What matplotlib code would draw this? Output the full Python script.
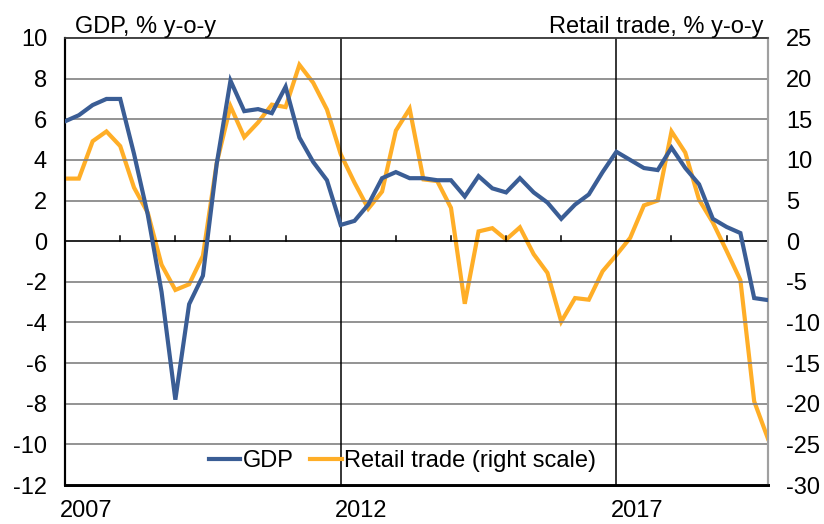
import matplotlib
matplotlib.use('Agg')
import matplotlib.pyplot as plt
import numpy as np

# quarterly, 2007Q1 .. 2019Q4
gdp = [5.9, 6.2, 6.7, 7.0, 7.0, 4.3, 1.3, -2.5, -7.8, -3.1, -1.7, 3.8,
       7.9, 6.4, 6.5, 6.3, 7.6, 5.1, 3.9, 3.0, 0.8, 1.0, 1.8, 3.1,
       3.4, 3.1, 3.1, 3.0, 3.0, 2.2, 3.2, 2.6, 2.4, 3.1, 2.4, 1.9,
       1.1, 1.8, 2.3, 3.4, 4.4, 4.0, 3.6, 3.5, 4.6, 3.6, 2.8, 1.1,
       0.7, 0.4, -2.8, -2.9]
retail = [7.7, 7.7, 12.3, 13.5, 11.7, 6.6, 3.5, -2.9, -6.0, -5.3, -1.8, 9.6,
          16.6, 12.8, 14.6, 16.8, 16.5, 21.7, 19.5, 16.2, 10.7, 7.2, 4.0, 6.1,
          13.6, 16.3, 7.6, 7.4, 4.1, -7.7, 1.2, 1.6, 0.2, 1.7, -1.6, -3.9,
          -9.9, -7.0, -7.2, -3.7, -1.7, 0.4, 4.4, 5.0, 13.5, 10.9, 5.1, 2.3,
          -1.2, -4.8, -19.7, -24.3]
years = [2007, 2012, 2017]

blue = '#3A5D95'
orange = '#FFAE27'
plt.rcParams['font.family'] = ['Liberation Sans', 'DejaVu Sans']
plt.rcParams['axes.unicode_minus'] = False
fs = 17

fig = plt.figure(figsize=(8.24, 5.24), dpi=100)
ax = fig.add_axes([0.079, 0.0744, 0.853, 0.8531])
ax2 = ax.twinx()

n = len(gdp)
x = np.arange(n)

# grid
for v in range(-12, 11, 2):
    if v == 0:
        continue
    ax.axhline(v, color='#808080', lw=1.2, zorder=1)
ax.axhline(0, color='black', lw=1.2, zorder=1)
for i in range(4, n, 4):
    if (i // 4) % 5 == 0:
        ax.axvline(i, color='black', lw=1.1, zorder=1)
    else:
        ax.plot([i, i], [0, 0.25], color='black', lw=1.1, zorder=1)

l1, = ax.plot(x, gdp, color=blue, lw=3, zorder=3, solid_joinstyle='miter')
l2, = ax2.plot(x, retail, color=orange, lw=3, zorder=3, solid_joinstyle='miter')

ax.set_xlim(0, n - 1)
ax.set_ylim(-12, 10)
ax2.set_ylim(-30, 25)
ax.set_yticks(range(-12, 11, 2))
ax2.set_yticks(range(-30, 26, 5))
ax.tick_params(axis='y', length=0, labelsize=fs, pad=13)
ax2.tick_params(axis='y', length=0, labelsize=fs, pad=13)

pos = [(y - 2007) * 4 + 1.5 for y in years]
ax.set_xticks(pos)
ax.set_xticklabels([str(y) for y in years], fontsize=fs)
ax.tick_params(axis='x', length=0, pad=11)

for a in (ax, ax2):
    a.spines['left'].set_linewidth(1.5)
    a.spines['left'].set_color('black')
    a.spines['bottom'].set_linewidth(2)
    a.spines['bottom'].set_color('black')
    a.spines['top'].set_color('#404040')
    a.spines['top'].set_linewidth(1.2)
    a.spines['right'].set_color('#a0a0a0')
    a.spines['right'].set_linewidth(1.5)

ax.text(0.014, 1.0, 'GDP, % y-o-y', transform=ax.transAxes, fontsize=fs,
        ha='left', va='bottom')
ax.text(0.993, 1.0, 'Retail trade, % y-o-y', transform=ax.transAxes, fontsize=fs,
        ha='right', va='bottom')

ax.legend([l1, l2], ['GDP', 'Retail trade (right scale)'], loc='lower center',
          bbox_to_anchor=(0.48, 0.0), ncol=2, frameon=False, fontsize=fs,
          handlelength=1.35, handletextpad=0.1, columnspacing=0.7,
          borderaxespad=0.15)
ax.set_zorder(ax2.get_zorder() + 1)
ax.patch.set_visible(False)

fig.savefig('out.png', dpi=100)
